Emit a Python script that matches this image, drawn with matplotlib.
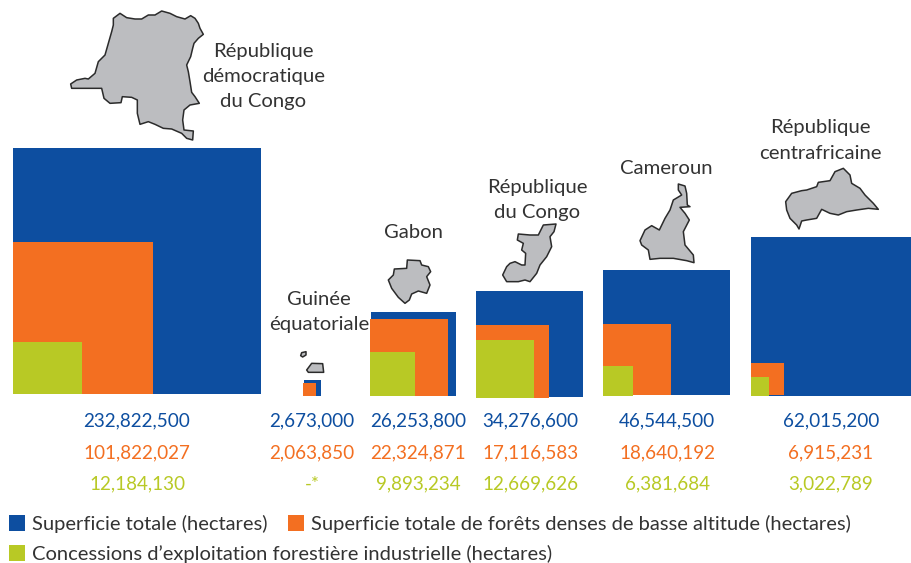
import matplotlib
matplotlib.use("Agg")
import matplotlib.pyplot as plt
from matplotlib.patches import Polygon, Rectangle

plt.rcParams['font.family'] = ['Lato', 'DejaVu Sans']

BLUE, ORANGE, GREEN = '#0D4EA0', '#F36F21', '#B8C925'
MAP, EDGE, TEXT = '#BCBDC0', '#2B2B2B', '#333333'

countries = ['RDC', 'Guinée éq.', 'Gabon', 'Congo', 'Cameroun', 'RCA']
total_labels = ['232,822,500', '2,673,000', '26,253,800', '34,276,600', '46,544,500', '62,015,200']
forest_labels = ['101,822,027', '2,063,850', '22,324,871', '17,116,583', '18,640,192', '6,915,231']
concession_labels = ['12,184,130', '-*', '9,893,234', '12,669,626', '6,381,684', '3,022,789']

# squares as drawn in the picture (left, right, top, bottom)
total_x0 = [13, 304, 371, 476, 603, 751]
total_x1 = [261, 321, 456, 583, 730, 911]
total_top = [148, 380, 312, 291, 270, 237]
total_bot = [394, 396, 396, 397, 395, 396]
forest_x0 = [13, 303, 370, 476, 603, 751]
forest_x1 = [153, 316, 448, 549, 671, 784]
forest_top = [242, 383, 319, 325, 324, 363]
forest_bot = [394, 396, 396, 398, 395, 395]
conc_x0 = [13, None, 370, 476, 603, 751]
conc_x1 = [82, None, 415, 534, 633, 769]
conc_top = [342, None, 352, 340, 366, 377]
conc_bot = [394, None, 396, 398, 396, 396]

col_x = [137, 312, 418, 530, 667, 831]
row_y = [421, 453, 484]

fig = plt.figure(figsize=(9.11, 5.63), dpi=100)
ax = fig.add_axes([0, 0, 1, 1])
ax.set_xlim(0, 911)
ax.set_ylim(563, 0)
ax.axis('off')


def squares(x0, x1, top, bot, color):
    for a, b, t, u in zip(x0, x1, top, bot):
        if a is not None:
            ax.bar(a, t - u, width=b - a, bottom=u, align='edge', color=color, linewidth=0)


squares(total_x0, total_x1, total_top, total_bot, BLUE)
squares(forest_x0, forest_x1, forest_top, forest_bot, ORANGE)
squares(conc_x0, conc_x1, conc_top, conc_bot, GREEN)

drc = [(160,40),(180,25),(200,38),(225,42),(245,42),(265,30),(285,30),(305,18),(330,25),(350,35),(375,42),(392,32),(405,40),(415,55),(420,70),(430,88),(415,100),(402,115),(398,130),(392,155),(380,180),(385,200),(390,230),(395,262),(405,275),(418,295),(390,300),(372,315),(368,345),(372,375),(400,378),(398,405),(380,400),(365,385),(335,372),(310,370),(285,358),(265,350),(240,358),(232,325),(232,285),(215,277),(187,275),(183,293),(150,295),(132,280),(125,250),(75,250),(35,250),(32,237),(50,225),(75,220),(85,222),(105,205),(115,170),(135,150),(145,115),(155,80),(160,60)]
gabon = [(382,150),(420,152),(425,165),(445,170),(452,185),(440,200),(450,225),(440,250),(415,243),(395,252),(388,270),(375,280),(355,262),(335,235),(325,210),(340,195),(343,177),(380,175)]
congo = [(790,45),(828,42),(822,65),(810,80),(815,110),(800,140),(780,165),(770,190),(750,215),(735,210),(715,215),(695,215),(680,215),(668,195),(680,170),(690,160),(705,155),(725,165),(735,165),(737,130),(725,120),(730,100),(712,90),(715,72),(750,75),(775,75)]
eq1 = [(95,460),(128,461),(131,487),(85,487),(80,480)]
eq2 = [(65,428),(78,425),(78,435),(68,441),(62,437)]
cam = [(265,102),(285,108),(290,130),(292,165),(300,170),(270,172),(285,190),(298,210),(280,245),(285,285),(310,315),(312,338),(290,332),(250,325),(210,325),(180,328),(175,300),(155,285),(150,272),(165,240),(185,227),(208,240),(225,205),(240,180),(250,150),(275,135),(265,120)]
car = [(587,155),(605,130),(635,122),(650,120),(680,110),(685,97),(720,92),(735,65),(760,55),(780,75),(785,100),(810,115),(825,135),(850,160),(865,178),(835,175),(800,180),(770,185),(745,195),(720,190),(695,178),(680,205),(650,210),(635,213),(627,237),(620,225),(600,205),(590,180)]
for pts, ox, oy in [(drc, 60, 5), (gabon, 280, 210), (congo, 280, 210), (eq1, 280, 210), (eq2, 280, 210), (cam, 590, 150), (car, 590, 150)]:
    ax.add_patch(Polygon([(ox + x / 3, oy + y / 3) for x, y in pts], closed=True,
                         facecolor=MAP, edgecolor=EDGE, linewidth=1.1, joinstyle='round'))

names = [
    ('République\ndémocratique\ndu Congo', 263.5, 76.5),
    ('Guinée\néquatoriale', 319, 312),
    ('Gabon', 413, 232.5),
    ('République\ndu Congo', 537, 200),
    ('Cameroun', 666, 168.5),
    ('République\ncentrafricaine', 820, 140.5),
]
for s, x, y in names:
    ax.text(x, y, s, ha='center', va='center', fontsize=14.6, color=TEXT, linespacing=1.6)

for labels, y, c in zip([total_labels, forest_labels, concession_labels], row_y, [BLUE, ORANGE, GREEN]):
    for s, x in zip(labels, col_x):
        ax.text(x, y, s, ha='center', va='center', fontsize=13.6, color=c)

legend = [(9, 515, BLUE, 32, 'Superficie totale (hectares)'),
          (288, 515, ORANGE, 311, 'Superficie totale de forêts denses de basse altitude (hectares)'),
          (9, 545, GREEN, 32, 'Concessions d’exploitation forestière industrielle (hectares)')]
for x, y, c, tx, s in legend:
    ax.add_patch(Rectangle((x, y), 16, 16, facecolor=c, linewidth=0))
    ax.text(tx, y + 8.5, s, ha='left', va='center', fontsize=14.5, color=TEXT)

fig.savefig('out.png', dpi=100)
